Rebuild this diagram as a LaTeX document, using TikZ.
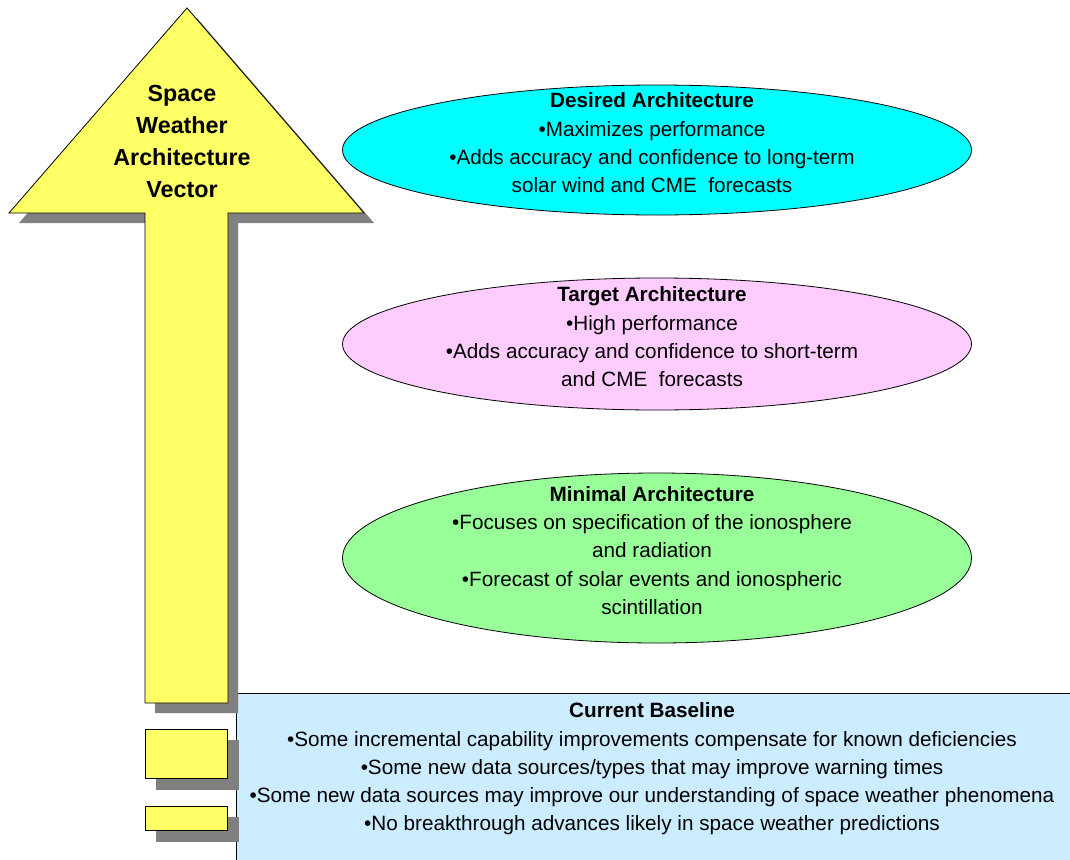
\documentclass[tikz,border=0pt]{standalone}
\usepackage{fontspec}
\setmainfont{Liberation Sans}
\usetikzlibrary{shapes.geometric}
\definecolor{arrowyellow}{HTML}{FFFF66}
\definecolor{shadowgray}{HTML}{808080}
\definecolor{desiredcyan}{HTML}{00FFFF}
\definecolor{targetpink}{HTML}{FFCCFF}
\definecolor{minimalgreen}{HTML}{99FF99}
\definecolor{baselineblue}{HTML}{CCECFF}
\tikzset{
  archellipse/.style={ellipse, draw=black, line width=0.8pt, minimum width=629pt, minimum height=#1, inner sep=0pt},
  bodytext/.style={align=center, inner sep=0pt, font=\fontsize{20.7}{28.3}\selectfont},
  arrowtext/.style={align=center, inner sep=0pt, font=\fontsize{23.3}{31.7}\selectfont\bfseries},
  shadowfill/.style={fill=shadowgray, draw=none},
  yellowpart/.style={fill=arrowyellow, draw=black, line width=0.8pt, line join=miter},
}
\begin{document}
\begin{tikzpicture}[x=1pt,y=-1pt]
\useasboundingbox (0,0) rectangle (1070,859);
% baseline box
\fill[baselineblue] (236,693) rectangle (1075,865);
\draw[line width=0.8pt] (236,865) -- (236,693) -- (1075,693);
% arrow shadow
\path[shadowfill] (197,18) -- (374,223) -- (238,223) -- (238,713) -- (155,713) -- (155,223) -- (19,223) -- cycle;
% arrow
\path[yellowpart] (187,8) -- (364,213) -- (228,213) -- (228,703) -- (145,703) -- (145,213) -- (9,213) -- cycle;
% small rectangles
\fill[shadowgray] (156,740) rectangle (239,790);
\draw[yellowpart] (145,729) rectangle (227,778);
\fill[shadowgray] (156,817) rectangle (239,842);
\draw[yellowpart] (145,806) rectangle (227,830);
% arrow label
\node[arrowtext] (vec) at (182,141.5) {Space\\Weather\\Architecture\\Vector};
% ellipses
\node[archellipse=130pt, fill=desiredcyan] (desired) at (657,150) {};
\node[archellipse=132pt, fill=targetpink] (target) at (657,344) {};
\node[archellipse=170pt, fill=minimalgreen] (minimal) at (657,558) {};
\node[bodytext] (desiredtxt) at (652,143) {\textbf{Desired Architecture}\\\textbullet Maximizes performance\\\textbullet Adds accuracy and confidence to long-term\\solar wind and CME\ \ forecasts};
\node[bodytext] (targettxt) at (652,337) {\textbf{Target Architecture}\\\textbullet High performance\\\textbullet Adds accuracy and confidence to short-term\\and CME\ \ forecasts};
\node[bodytext] (minimaltxt) at (652,550.5) {\textbf{Minimal Architecture}\\\textbullet Focuses on specification of the ionosphere\\and radiation\\\textbullet Forecast of solar events and ionospheric\\scintillation};
\node[bodytext] (baselinetxt) at (652,769) {\textbf{Current Baseline}\\\textbullet Some incremental capability improvements compensate for known deficiencies\\\textbullet Some new data sources/types that may improve warning times\\\textbullet Some new data sources may improve our understanding of space weather phenomena\\\textbullet No breakthrough advances likely in space weather predictions};
\end{tikzpicture}
\end{document}
